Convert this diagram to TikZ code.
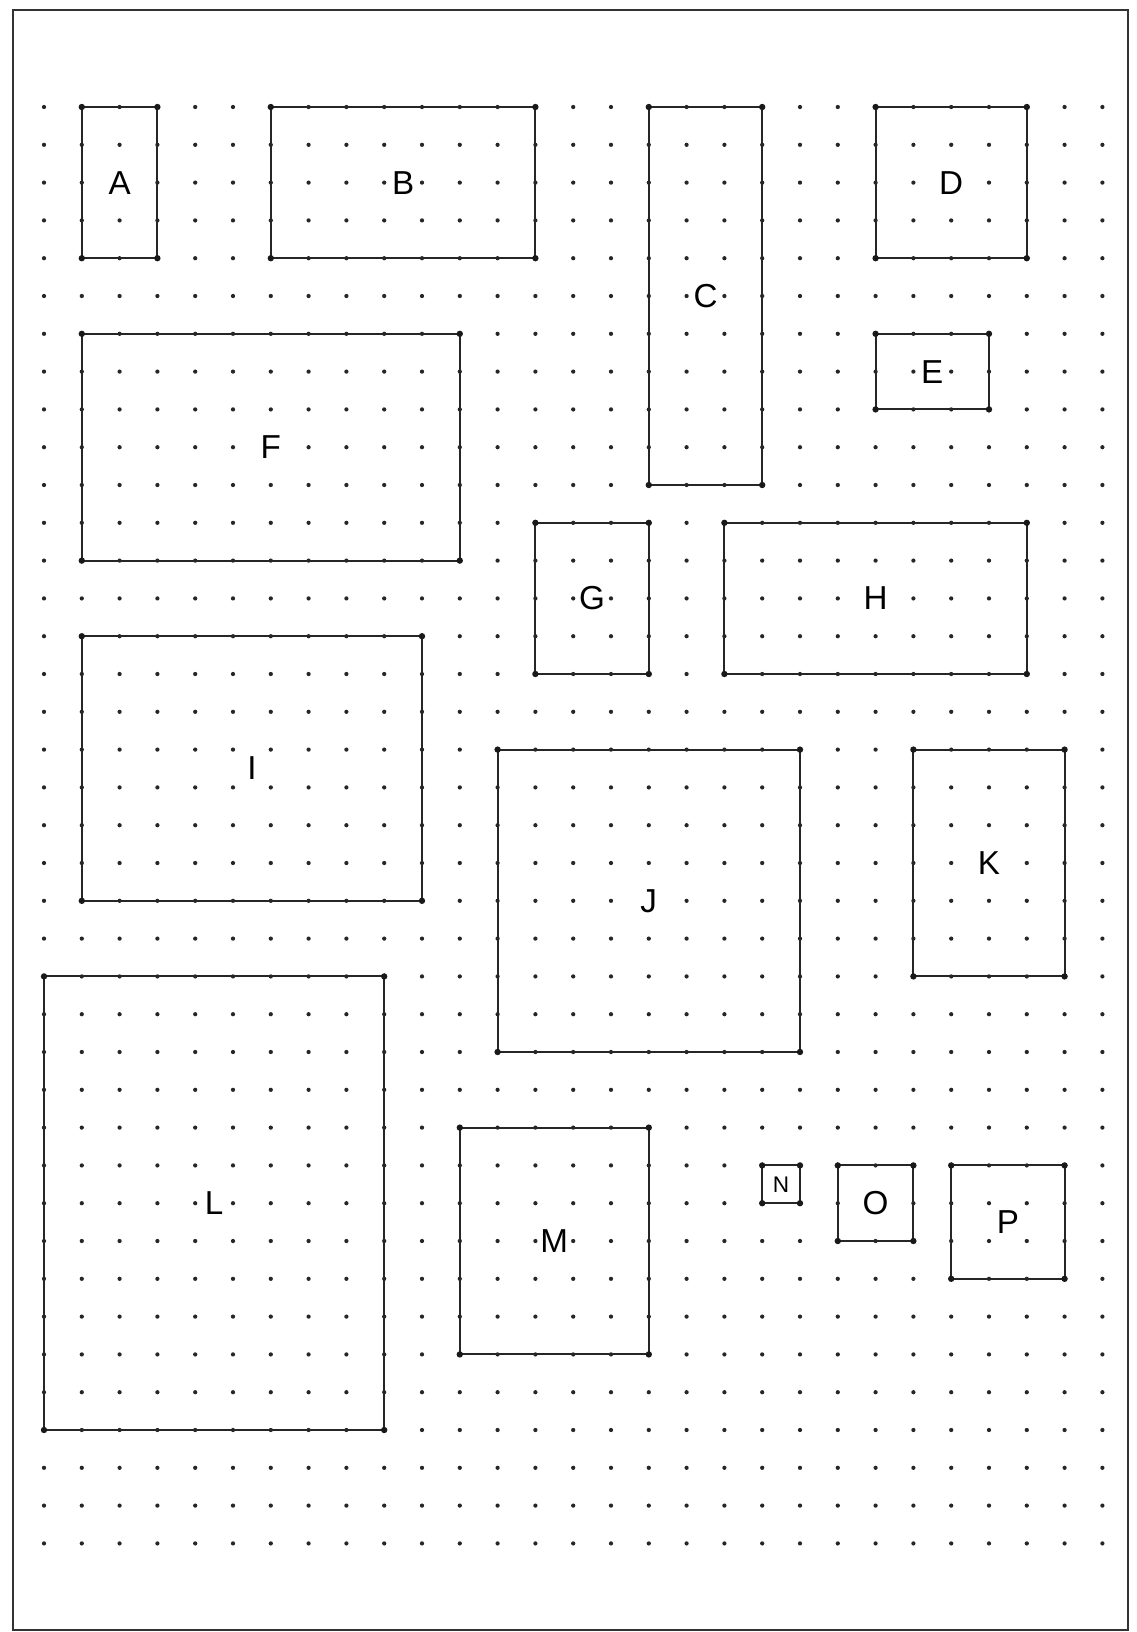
\documentclass[tikz,border=0pt]{standalone}
\usepackage{fontspec}
\setmainfont{Liberation Sans}
\newcommand{\roomname}[1]{{\setlength{\fboxsep}{0pt}\colorbox{white}{#1}}}

\begin{document}
\begin{tikzpicture}[
  x=1cm, y=1cm,
  gdot/.style={fill=black!85},
  cdot/.style={fill=black!90},
  room/.style={draw=black!85, line width=1.5pt, inner sep=0pt, outer sep=0pt, font=\fontsize{25}{30}\selectfont},
  small/.style={font=\fontsize{17}{20}\selectfont}
]
\useasboundingbox (-1.164,2.831) rectangle (28.915,-40.344);
\draw[line width=1.2pt, black!80] (-0.82,2.57) rectangle (28.68,-40.29);
% dot grid
\foreach \c in {0,...,28}
  \foreach \r in {0,...,38}
    \fill[gdot] (\c,-\r) circle (1.6pt);
% rooms
\node[room, minimum width=2cm, minimum height=4cm]   (A) at (2,-2)      {\roomname{A}};
\node[room, minimum width=7cm, minimum height=4cm]   (B) at (9.5,-2)    {\roomname{B}};
\node[room, minimum width=3cm, minimum height=10cm]  (C) at (17.5,-5)   {\roomname{C}};
\node[room, minimum width=4cm, minimum height=4cm]   (D) at (24,-2)     {\roomname{D}};
\node[room, minimum width=3cm, minimum height=2cm]   (E) at (23.5,-7)   {\roomname{E}};
\node[room, minimum width=10cm, minimum height=6cm]  (F) at (6,-9)      {\roomname{F}};
\node[room, minimum width=3cm, minimum height=4cm]   (G) at (14.5,-13)  {\roomname{G}};
\node[room, minimum width=8cm, minimum height=4cm]   (H) at (22,-13)    {\roomname{H}};
\node[room, minimum width=9cm, minimum height=7cm]   (I) at (5.5,-17.5) {\roomname{I}};
\node[room, minimum width=8cm, minimum height=8cm]   (J) at (16,-21)    {\roomname{J}};
\node[room, minimum width=4cm, minimum height=6cm]   (K) at (25,-20)    {\roomname{K}};
\node[room, minimum width=9cm, minimum height=12cm]  (L) at (4.5,-29)   {\roomname{L}};
\node[room, minimum width=5cm, minimum height=6cm]   (M) at (13.5,-30)  {\roomname{M}};
\node[room, small, minimum width=1cm, minimum height=1cm] (N) at (19.5,-28.5) {\roomname{N}};
\node[room, minimum width=2cm, minimum height=2cm]   (O) at (22,-29)    {\roomname{O}};
\node[room, minimum width=3cm, minimum height=3cm]   (P) at (25.5,-29.5) {\roomname{P}};
% corner dots
\foreach \n in {A,B,C,D,E,F,G,H,I,J,K,L,M,N,O,P} {
  \fill[cdot] (\n.north west) circle (2.4pt);
  \fill[cdot] (\n.north east) circle (2.4pt);
  \fill[cdot] (\n.south west) circle (2.4pt);
  \fill[cdot] (\n.south east) circle (2.4pt);
}
\end{tikzpicture}
\end{document}
